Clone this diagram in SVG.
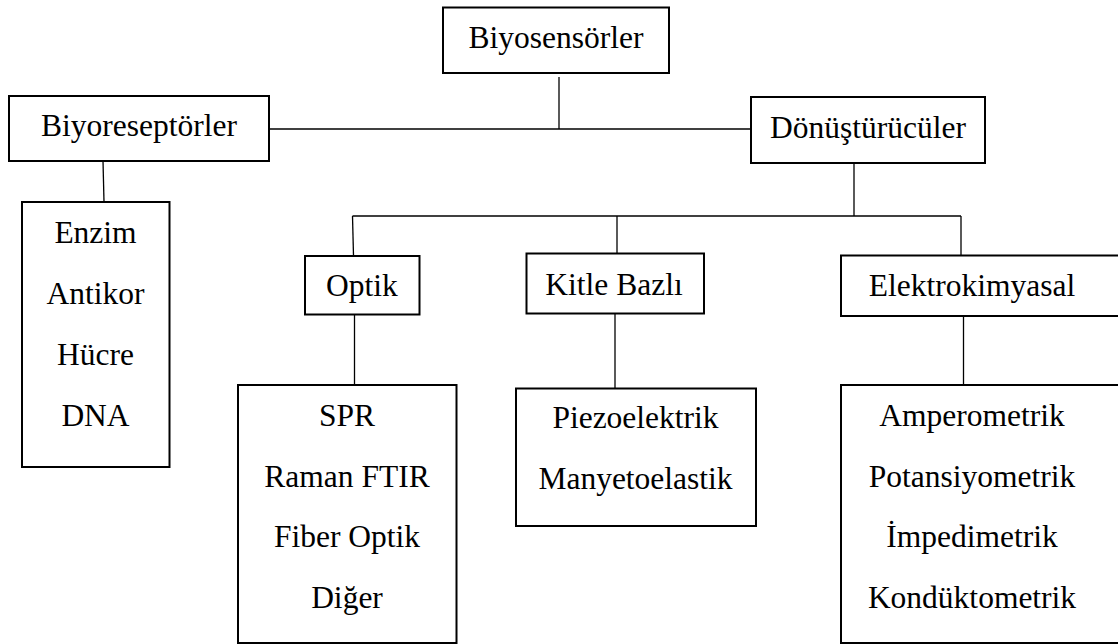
<svg xmlns="http://www.w3.org/2000/svg" width="1118" height="644" viewBox="0 0 1118 644">
<style>
.box{fill:#fff;stroke:#000;stroke-width:2}
.t{font-family:'Liberation Serif','Times New Roman',Tinos,'DejaVu Serif',serif;font-size:31.5px;fill:#000;text-anchor:middle}
.c line{stroke:#000;stroke-width:1.3}
</style>
<rect width="1118" height="644" fill="#fff"/>
<g class="c" id="connectors">
<line x1="559" y1="77" x2="559" y2="129"/>
<line x1="269" y1="129" x2="751" y2="129"/>
<line x1="103" y1="161" x2="104" y2="202"/>
<line x1="854" y1="163" x2="854" y2="216"/>
<line x1="352.5" y1="216" x2="961" y2="216"/>
<line x1="352.5" y1="216" x2="353.5" y2="256"/>
<line x1="617" y1="216" x2="617" y2="253"/>
<line x1="961" y1="216" x2="961" y2="255"/>
<line x1="354.5" y1="315" x2="354.5" y2="385"/>
<line x1="615" y1="314" x2="615" y2="388"/>
<line x1="963.5" y1="316" x2="963.5" y2="385"/>
</g>
<g id="biyosensorler"><rect class="box" x="443" y="7.5" width="226" height="65.5"/><text class="t" x="556" y="48">Biyosensörler</text></g>
<g id="biyoreseptorler"><rect class="box" x="9" y="96" width="260" height="65"/><text class="t" x="139" y="136">Biyoreseptörler</text></g>
<g id="donusturuculer"><rect class="box" x="751" y="97" width="234" height="66"/><text class="t" x="868" y="137.5">Dönüştürücüler</text></g>
<g id="biyoreseptor-list"><rect class="box" x="22" y="202" width="147.5" height="265"/>
<text class="t" x="95.5" y="243">Enzim</text><text class="t" x="95.5" y="304">Antikor</text><text class="t" x="95.5" y="365">Hücre</text><text class="t" x="95.5" y="426">DNA</text></g>
<g id="optik"><rect class="box" x="305" y="256" width="114.5" height="58.5"/><text class="t" x="362" y="296">Optik</text></g>
<g id="kitle"><rect class="box" x="526.5" y="253.5" width="177.5" height="60"/><text class="t" x="614" y="294.5">Kitle Bazlı</text></g>
<g id="elektro"><rect class="box" x="841" y="255.5" width="290" height="60.5"/><text class="t" x="972" y="296">Elektrokimyasal</text></g>
<g id="optik-list"><rect class="box" x="238" y="385" width="218.5" height="258"/>
<text class="t" x="347" y="426">SPR</text><text class="t" x="347" y="486.5">Raman FTIR</text><text class="t" x="347" y="547">Fiber Optik</text><text class="t" x="347" y="608">Diğer</text></g>
<g id="kitle-list"><rect class="box" x="516" y="388.5" width="240" height="137.5"/>
<text class="t" x="635.5" y="428">Piezoelektrik</text><text class="t" x="635.5" y="489">Manyetoelastik</text></g>
<g id="elektro-list"><rect class="box" x="841" y="385" width="290" height="258"/>
<text class="t" x="972" y="426">Amperometrik</text><text class="t" x="972" y="486.5">Potansiyometrik</text><text class="t" x="972" y="547">İmpedimetrik</text><text class="t" x="972" y="608">Kondüktometrik</text></g>
</svg>
